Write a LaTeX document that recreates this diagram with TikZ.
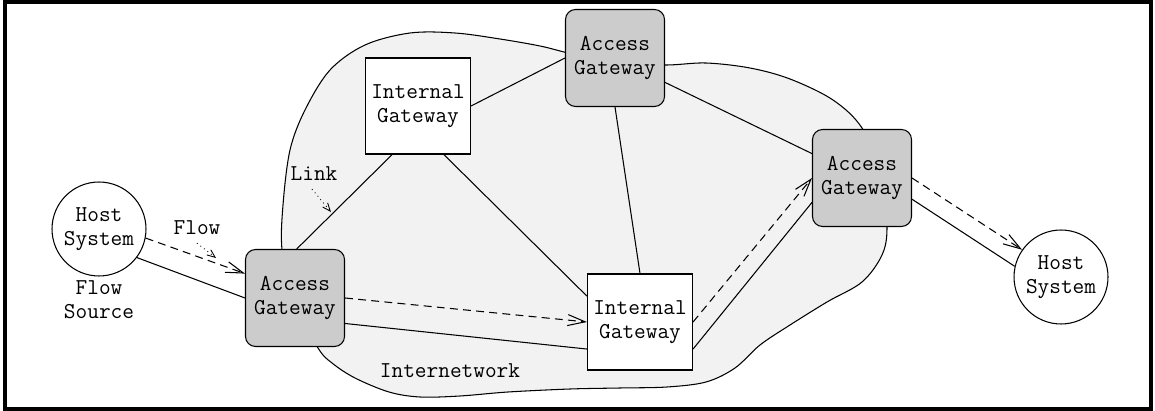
\documentclass[tikz,border=0pt]{standalone}
\usepackage{fontspec}
\usetikzlibrary{arrows.meta,shapes.geometric}
\definecolor{agfill}{HTML}{CCCCCC}
\definecolor{netfill}{HTML}{F2F2F2}

\begin{document}
\begin{tikzpicture}[
  x=0.02cm, y=-0.02cm,
  font={\ttfamily\fontsize{12.9}{13.6}\selectfont},
  host/.style={draw, circle, fill=white, minimum size=1.88cm, inner sep=0pt,
    align=center, line width=0.6pt},
  agw/.style={draw, rounded corners=2mm, fill=agfill, minimum width=1.98cm,
    minimum height=1.94cm, align=center, line width=0.6pt},
  igw/.style={draw, fill=white, minimum width=1.98cm, minimum height=1.92cm,
    align=center, line width=0.6pt},
  lnk/.style={line width=0.6pt},
  flw/.style={line width=0.6pt, dash pattern=on 4.5pt off 3pt,
    -{Straight Barb[length=3.5mm,width=2.2mm]}},
  pnt/.style={line width=0.5pt, dotted, -{Straight Barb[length=1.6mm,width=1.3mm]}},
]
\useasboundingbox (0,0) rectangle (1155,411);
\draw[line width=0.07cm] (5,2) rectangle (1151,409);

% internetwork cloud
\draw[fill=netfill, line width=0.6pt] plot[smooth cycle, tension=0.55] coordinates {
  (282,250) (283,205) (290,150) (305,110) (330,70) (365,45) (410,33) (455,33)
  (500,39) (540,46) (568,53) (615,64) (667,65) (706,63) (750,68) (790,79)
  (833,100) (862,128) (882,175) (887,227) (882,255) (862,282) (827,302)
  (790,325) (760,345) (735,368) (706,382) (667,387) (620,388) (570,389)
  (508,392) (460,396) (420,397) (389,392) (355,378) (332,363) (318,348)
  (292,300)};

\node[host] (hostL) at (99,229) {Host\\System};
\node[align=center] (srcL) at (99,300) {Flow\\Source};
\node[agw] (agL) at (295,298) {Access\\Gateway};
\node[igw] (igA) at (418,106) {Internal\\Gateway};
\node[agw] (agT) at (615,58) {Access\\Gateway};
\node[agw] (agR) at (862,178) {Access\\Gateway};
\node[igw] (igB) at (640,322) {Internal\\Gateway};
\node[host] (hostR) at (1061,277) {Host\\System};
\node (netL) at (450,371) {Internetwork};
\node (lnkL) at (314,174) {Link};
\node (flwL) at (197,228) {Flow};
\coordinate (lnkP) at (331,212);
\coordinate (flwP) at (216,258);

% links
\draw[lnk] (hostL.-37) -- (agL.west);
\draw[lnk] (agL.88) -- (igA.-118);
\draw[lnk] (agL.-27) -- (igB.-153);
\draw[lnk] (igA.east) -- (agT.west);
\draw[lnk] (igA.-62) -- (igB.154);
\draw[lnk] (agT.south) -- (igB.north);
\draw[lnk] (agT.-26) -- (agR.154);
\draw[lnk] (igB.-27) -- (agR.-154);
\draw[lnk] (agR.-23) -- (hostR.167);

% flow
\draw[flw] (hostL.-11) -- (agL.154);
\draw[flw] (agL.east) -- (igB.west);
\draw[flw] (igB.east) -- (agR.west);
\draw[flw] (agR.east) -- (hostR.145);

% labels
\draw[pnt] (lnkL.south) ++(-2,2) -- (lnkP);
\draw[pnt] (flwL.south) ++(0,2) -- (flwP);
\end{tikzpicture}
\end{document}
